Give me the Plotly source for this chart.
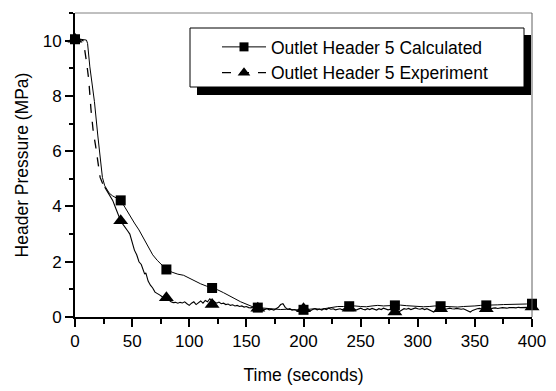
import plotly.graph_objects as go

# Calculated outlet header 5 pressure (MPa) versus time (s)
calc_time = [0, 5, 10, 11, 13, 15, 17, 20, 22, 24, 26, 28, 30, 33, 36, 40,
             44, 48, 52, 56, 60, 64, 68, 72, 76, 80, 85, 90, 95, 100, 105, 110,
             115, 120, 125, 130, 135, 140, 145, 150, 155, 160, 165, 170, 175,
             180, 185, 190, 195, 200, 205, 210, 215, 220, 225, 230, 235, 240,
             245, 250, 255, 260, 265, 270, 275, 280, 285, 290, 295, 300, 305,
             310, 315, 320, 325, 330, 335, 340, 345, 350, 355, 360, 365, 370,
             375, 380, 385, 390, 395, 400]
calc_pressure = [10.05, 10.05, 10.02, 9.9, 9.05, 8.4, 7.8, 6.55, 5.85, 5.05,
                 4.75, 4.6, 4.48, 4.38, 4.3, 4.22, 3.95, 3.65, 3.4, 3.15, 2.85,
                 2.5, 2.25, 2.05, 1.88, 1.72, 1.62, 1.55, 1.51, 1.4, 1.3, 1.2,
                 1.12, 1.05, 0.98, 0.88, 0.78, 0.66, 0.55, 0.45, 0.38, 0.34,
                 0.32, 0.3, 0.28, 0.27, 0.28, 0.26, 0.25, 0.26, 0.27, 0.3,
                 0.28, 0.32, 0.36, 0.38, 0.38, 0.39, 0.4, 0.38, 0.37, 0.4,
                 0.42, 0.4, 0.41, 0.42, 0.43, 0.41, 0.39, 0.38, 0.37, 0.38,
                 0.4, 0.39, 0.38, 0.37, 0.36, 0.38, 0.38, 0.4, 0.42, 0.42,
                 0.44, 0.44, 0.45, 0.45, 0.46, 0.47, 0.47, 0.48]

# Measured outlet header 5 pressure: smooth early blowdown part
exp_time_early = [0, 4, 7, 8, 10, 12, 14, 16, 18, 20, 22, 24, 26]
exp_pressure_early = [10.05, 10.05, 10.0, 9.8, 9.25, 8.6, 7.5, 6.7, 6.2,
                      5.6, 5.05, 4.85, 4.7]

# Measured pressure: dense, noisy record after the initial drop
exp_time_late = [26, 28, 30, 33, 36, 38, 40, 42, 44, 46, 48, 50, 52, 54, 56,
                 58, 60, 61, 62, 64, 66, 68, 70, 72, 74, 76, 78, 80, 82, 84,
                 86, 88, 90, 92, 94, 96, 98, 100, 102, 104, 106, 108, 110,
                 112, 114, 116, 118, 119, 120, 121, 122, 124, 126, 128, 130,
                 132, 134, 136, 138, 140, 142, 144, 146, 148, 150, 152, 154,
                 156, 158, 160, 162, 164, 166, 168, 170, 172, 174, 176, 178,
                 180, 182, 184, 186, 188, 190, 192, 194, 196, 198, 200, 202,
                 204, 206, 208, 210, 212, 214, 216, 218, 220, 222, 224, 226,
                 228, 230, 232, 234, 236, 238, 240, 242, 244, 246, 248, 250,
                 252, 254, 256, 258, 260, 262, 264, 266, 268, 270, 272, 274,
                 276, 278, 280, 282, 284, 286, 288, 290, 292, 294, 296, 298,
                 300, 302, 304, 306, 308, 310, 312, 314, 316, 318, 320, 322,
                 324, 326, 328, 330, 332, 334, 336, 338, 340, 342, 344, 346,
                 348, 350, 352, 354, 356, 358, 360, 362, 364, 366, 368, 370,
                 372, 374, 376, 378, 380, 382, 384, 386, 388, 390, 392, 394,
                 396, 398, 400]
exp_pressure_late = [4.7, 4.55, 4.42, 4.22, 3.9, 3.65, 3.48, 3.35, 3.25,
                     3.12, 3.0, 2.72, 2.42, 2.25, 2.0, 1.9, 1.62, 1.55, 1.6,
                     1.3, 1.15, 1.05, 0.9, 0.86, 0.8, 0.74, 0.72, 0.7, 0.62,
                     0.55, 0.52, 0.53, 0.5, 0.53, 0.51, 0.55, 0.48, 0.42,
                     0.5, 0.55, 0.45, 0.52, 0.58, 0.5, 0.6, 0.55, 0.66, 0.62,
                     0.45, 0.6, 0.55, 0.5, 0.54, 0.48, 0.5, 0.45, 0.47, 0.42,
                     0.44, 0.4, 0.42, 0.38, 0.4, 0.36, 0.38, 0.34, 0.33,
                     0.36, 0.3, 0.32, 0.28, 0.3, 0.27, 0.3, 0.26, 0.28, 0.25,
                     0.3, 0.35, 0.45, 0.48, 0.35, 0.28, 0.3, 0.25, 0.27,
                     0.24, 0.28, 0.26, 0.3, 0.25, 0.28, 0.22, 0.27, 0.3,
                     0.26, 0.29, 0.25, 0.3, 0.27, 0.32, 0.28, 0.3, 0.26,
                     0.29, 0.3, 0.26, 0.31, 0.28, 0.32, 0.27, 0.3, 0.25,
                     0.29, 0.32, 0.28, 0.26, 0.3, 0.27, 0.31, 0.28, 0.25,
                     0.3, 0.27, 0.32, 0.29, 0.26, 0.28, 0.22, 0.18, 0.15,
                     0.2, 0.26, 0.3, 0.28, 0.31, 0.27, 0.3, 0.33, 0.3, 0.28,
                     0.31, 0.27, 0.3, 0.25, 0.2, 0.18, 0.24, 0.28, 0.3, 0.29,
                     0.28, 0.3, 0.32, 0.3, 0.29, 0.31, 0.3, 0.28, 0.3, 0.26,
                     0.2, 0.18, 0.24, 0.28, 0.3, 0.31, 0.29, 0.32, 0.3, 0.31,
                     0.3, 0.32, 0.33, 0.31, 0.33, 0.34, 0.33, 0.32, 0.34,
                     0.35, 0.34, 0.33, 0.35, 0.34, 0.35, 0.36, 0.35, 0.34,
                     0.36]

# Symbols are placed every 40 s along each curve
marker_times = [0, 40, 80, 120, 160, 200, 240, 280, 320, 360, 400]

x_ticks = [0, 50, 100, 150, 200, 250, 300, 350, 400]
y_ticks = [0, 2, 4, 6, 8, 10]

CALC_NAME = "Outlet Header 5 Calculated"
EXP_NAME = "Outlet Header 5 Experiment"
FONT = "Liberation Sans, Arial, sans-serif"
SQ, TRI = 10, 13
SQ_LEG, TRI_LEG = 9, 11


def sizes(times, size):
    return [size if t in marker_times else 0 for t in times]


def marker(symbol, size):
    return dict(symbol=symbol, color="black", size=size, opacity=1,
                line=dict(width=0))


fig = go.Figure()

fig.add_trace(go.Scatter(
    x=calc_time, y=calc_pressure, mode="lines+markers", name=CALC_NAME,
    legendgroup="calc", showlegend=False,
    line=dict(color="black", width=1),
    marker=marker("square", sizes(calc_time, SQ)),
    cliponaxis=False,
))

fig.add_trace(go.Scatter(
    x=exp_time_early, y=exp_pressure_early, mode="lines+markers",
    name=EXP_NAME, legendgroup="exp", showlegend=False,
    line=dict(color="black", width=1.3, dash="dash"),
    marker=marker("triangle-up", sizes(exp_time_early, TRI)),
    cliponaxis=False,
))

fig.add_trace(go.Scatter(
    x=exp_time_late, y=exp_pressure_late, mode="lines+markers",
    name=EXP_NAME, legendgroup="exp", showlegend=False,
    line=dict(color="black", width=1.1),
    marker=marker("triangle-up", sizes(exp_time_late, TRI)),
    cliponaxis=False,
))

# Legend entries (line + symbol samples only)
fig.add_trace(go.Scatter(
    x=[None], y=[None], mode="lines+markers", name=CALC_NAME,
    legendgroup="calc", line=dict(color="black", width=1),
    marker=marker("square", SQ_LEG),
))
fig.add_trace(go.Scatter(
    x=[None], y=[None], mode="lines+markers", name=EXP_NAME,
    legendgroup="exp", line=dict(color="black", width=1.3, dash="dash"),
    marker=marker("triangle-up", TRI_LEG),
))

# Plot-area geometry in pixels, used for the framed legend box
W, H = 556, 391
L, R, T, B = 75, 24, 13, 74
pw, ph = W - L - R, H - T - B


def px_x(p):
    return (p - L) / pw


def px_y(p):
    return (H - B - p) / ph


shapes = [
    # top and right frame lines
    dict(type="line", xref="paper", yref="paper", x0=0, x1=1, y0=1, y1=1,
         line=dict(color="#808080", width=1), layer="above"),
    dict(type="line", xref="paper", yref="paper", x0=1, x1=1, y0=0, y1=1,
         line=dict(color="#606060", width=1), layer="above"),
    # legend drop shadow and box
    dict(type="rect", xref="paper", yref="paper",
         x0=px_x(197), x1=px_x(531), y0=px_y(95), y1=px_y(35),
         fillcolor="black", line=dict(width=0), layer="above"),
    dict(type="rect", xref="paper", yref="paper",
         x0=px_x(190), x1=px_x(524), y0=px_y(87), y1=px_y(28),
         fillcolor="white", line=dict(color="black", width=1), layer="above"),
]

fig.update_layout(
    width=W, height=H,
    margin=dict(l=L, r=R, t=T, b=B, pad=0, autoexpand=False),
    paper_bgcolor="white", plot_bgcolor="white",
    font=dict(family=FONT, size=17, color="black"),
    showlegend=True,
    legend=dict(x=px_x(217), y=px_y(29), xanchor="left", yanchor="top",
                bgcolor="rgba(0,0,0,0)", borderwidth=0,
                font=dict(family=FONT, size=17.5, color="black"),
                itemwidth=44, tracegroupgap=0, traceorder="normal"),
    shapes=shapes,
    xaxis=dict(
        range=[0, 400], tickvals=x_ticks, ticks="outside", ticklen=8,
        tickwidth=1.5, tickcolor="black", showline=True, linecolor="black",
        linewidth=2, showgrid=False, zeroline=False, automargin=False,
        minor=dict(dtick=25, ticks="outside", ticklen=5, tickwidth=1.5,
                   tickcolor="black", showgrid=False),
        title=dict(text="Time (seconds)", standoff=18,
                   font=dict(family=FONT, size=17.5)),
        tickfont=dict(family=FONT, size=17),
    ),
    yaxis=dict(
        range=[0, 11], tickvals=y_ticks, ticks="outside", ticklen=8,
        tickwidth=1.5, tickcolor="black", showline=True, linecolor="black",
        linewidth=2, showgrid=False, zeroline=False, automargin=False,
        minor=dict(dtick=1, ticks="outside", ticklen=4, tickwidth=1.5,
                   tickcolor="black", showgrid=False),
        title=dict(text="Header Pressure (MPa)", standoff=10,
                   font=dict(family=FONT, size=17.5)),
        tickfont=dict(family=FONT, size=17),
    ),
)

fig.write_html("out.html")
